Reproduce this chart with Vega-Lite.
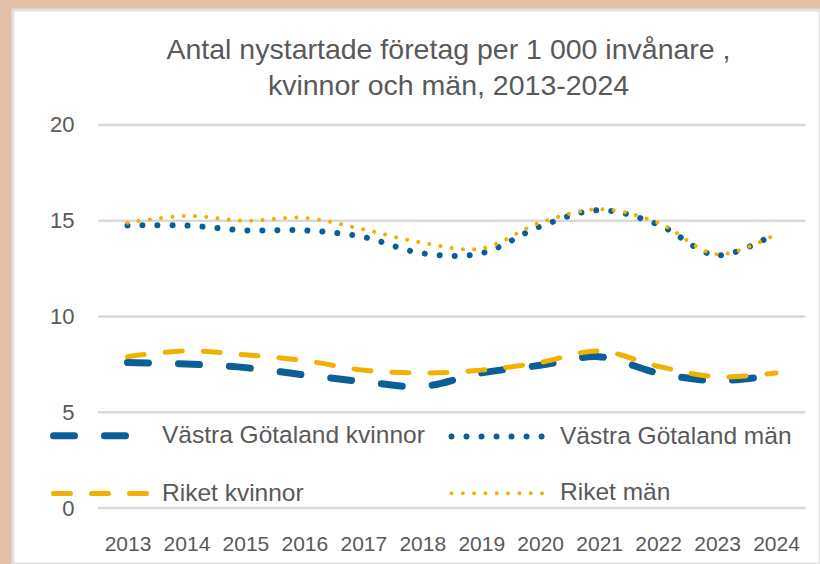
{
  "$schema": "https://vega.github.io/schema/vega-lite/v6.json",
  "width": 807,
  "height": 554,
  "autosize": "none",
  "padding": {"left": 13, "top": 10, "right": 0, "bottom": 0},
  "background": "#e2bfa9",
  "config": {
    "view": {"fill": "white", "stroke": "#e2e2e2", "strokeWidth": 3},
    "font": "Liberation Sans"
  },
  "title": {
    "text": ["Antal nystartade företag per 1 000 invånare ,", "kvinnor och män, 2013-2024"],
    "fontSize": 28.5,
    "font": "Liberation Sans",
    "fontWeight": "normal",
    "color": "#595959",
    "anchor": "middle",
    "frame": "group",
    "baseline": "top",
    "offset": -90,
    "lineHeight": 36,
    "dx": 32
  },
  "datasets": {
    "grid": [{"v": 0}, {"v": 5}, {"v": 10}, {"v": 15}, {"v": 20}],
    "series": [
      {"year": 2013, "serie": "Västra Götaland kvinnor", "value": 7.6},
      {"year": 2014, "serie": "Västra Götaland kvinnor", "value": 7.52},
      {"year": 2015, "serie": "Västra Götaland kvinnor", "value": 7.33},
      {"year": 2016, "serie": "Västra Götaland kvinnor", "value": 6.95},
      {"year": 2017, "serie": "Västra Götaland kvinnor", "value": 6.6},
      {"year": 2018, "serie": "Västra Götaland kvinnor", "value": 6.35},
      {"year": 2019, "serie": "Västra Götaland kvinnor", "value": 7.05},
      {"year": 2020, "serie": "Västra Götaland kvinnor", "value": 7.45},
      {"year": 2021, "serie": "Västra Götaland kvinnor", "value": 7.9},
      {"year": 2022, "serie": "Västra Götaland kvinnor", "value": 7.05},
      {"year": 2023, "serie": "Västra Götaland kvinnor", "value": 6.65},
      {"year": 2024, "serie": "Västra Götaland kvinnor", "value": 6.95},
      {"year": 2013, "serie": "Västra Götaland män", "value": 14.75},
      {"year": 2014, "serie": "Västra Götaland män", "value": 14.75},
      {"year": 2015, "serie": "Västra Götaland män", "value": 14.5},
      {"year": 2016, "serie": "Västra Götaland män", "value": 14.5},
      {"year": 2017, "serie": "Västra Götaland män", "value": 14.15},
      {"year": 2018, "serie": "Västra Götaland män", "value": 13.3},
      {"year": 2019, "serie": "Västra Götaland män", "value": 13.3},
      {"year": 2020, "serie": "Västra Götaland män", "value": 14.7},
      {"year": 2021, "serie": "Västra Götaland män", "value": 15.55},
      {"year": 2022, "serie": "Västra Götaland män", "value": 14.8},
      {"year": 2023, "serie": "Västra Götaland män", "value": 13.2},
      {"year": 2024, "serie": "Västra Götaland män", "value": 14.35},
      {"year": 2013, "serie": "Riket kvinnor", "value": 7.9},
      {"year": 2014, "serie": "Riket kvinnor", "value": 8.2},
      {"year": 2015, "serie": "Riket kvinnor", "value": 8.0},
      {"year": 2016, "serie": "Riket kvinnor", "value": 7.7},
      {"year": 2017, "serie": "Riket kvinnor", "value": 7.2},
      {"year": 2018, "serie": "Riket kvinnor", "value": 7.05},
      {"year": 2019, "serie": "Riket kvinnor", "value": 7.2},
      {"year": 2020, "serie": "Riket kvinnor", "value": 7.6},
      {"year": 2021, "serie": "Riket kvinnor", "value": 8.2},
      {"year": 2022, "serie": "Riket kvinnor", "value": 7.4},
      {"year": 2023, "serie": "Riket kvinnor", "value": 6.85},
      {"year": 2024, "serie": "Riket kvinnor", "value": 7.05},
      {"year": 2013, "serie": "Riket män", "value": 14.9},
      {"year": 2014, "serie": "Riket män", "value": 15.25},
      {"year": 2015, "serie": "Riket män", "value": 15.0},
      {"year": 2016, "serie": "Riket män", "value": 15.15},
      {"year": 2017, "serie": "Riket män", "value": 14.55},
      {"year": 2018, "serie": "Riket män", "value": 13.85},
      {"year": 2019, "serie": "Riket män", "value": 13.55},
      {"year": 2020, "serie": "Riket män", "value": 14.9},
      {"year": 2021, "serie": "Riket män", "value": 15.6},
      {"year": 2022, "serie": "Riket män", "value": 14.9},
      {"year": 2023, "serie": "Riket män", "value": 13.25},
      {"year": 2024, "serie": "Riket män", "value": 14.3}
    ]
  },
  "layer": [
    {
      "data": {"name": "grid"},
      "mark": {"type": "rule", "color": "#d9d9d9", "strokeWidth": 2.5},
      "encoding": {
        "x": {
          "datum": 2012.5, "type": "quantitative",
          "scale": {"domain": [2011.058, 2024.746], "nice": false, "zero": false},
          "axis": {
            "orient": "bottom", "offset": -30.5, "values": [2013, 2014, 2015, 2016, 2017, 2018, 2019, 2020, 2021, 2022, 2023, 2024],
            "format": "d", "title": null, "ticks": false, "domain": false, "grid": false,
            "labelPadding": 0, "labelFontSize": 21, "labelColor": "#595959", "labelOverlap": false, "labelFlush": false
          }
        },
        "x2": {"datum": 2024.5},
        "y": {
          "field": "v", "type": "quantitative",
          "scale": {"domain": [-2.924, 26.005], "nice": false, "zero": false},
          "axis": {
            "orient": "left", "offset": -71, "values": [0, 5, 10, 15, 20],
            "title": null, "ticks": false, "domain": false, "grid": false,
            "labelPadding": 10, "labelFontSize": 22, "labelColor": "#595959"
          }
        }
      }
    },
    {
      "data": {"name": "series"},
      "mark": {"type": "line", "interpolate": "catmull-rom", "strokeCap": "round"},
      "encoding": {
        "x": {
          "field": "year", "type": "quantitative",
          "scale": {"domain": [2011.058, 2024.746], "nice": false, "zero": false},
          "axis": {
            "orient": "bottom", "offset": -30.5, "values": [2013, 2014, 2015, 2016, 2017, 2018, 2019, 2020, 2021, 2022, 2023, 2024],
            "format": "d", "title": null, "ticks": false, "domain": false, "grid": false,
            "labelPadding": 0, "labelFontSize": 21, "labelColor": "#595959", "labelOverlap": false, "labelFlush": false
          }
        },
        "y": {
          "field": "value", "type": "quantitative",
          "scale": {"domain": [-2.924, 26.005], "nice": false, "zero": false},
          "axis": {
            "orient": "left", "offset": -71, "values": [0, 5, 10, 15, 20],
            "title": null, "ticks": false, "domain": false, "grid": false,
            "labelPadding": 10, "labelFontSize": 22, "labelColor": "#595959"
          }
        },
        "color": {
          "field": "serie", "type": "nominal",
          "scale": {
            "domain": ["Västra Götaland kvinnor", "Västra Götaland män", "Riket kvinnor", "Riket män"],
            "range": ["#0b5e96", "#0b5e96", "#f2b100", "#f2b100"]
          },
          "legend": {
            "orient": "none", "legendX": 37, "legendY": 412, "columns": 2, "direction": "horizontal", "title": null,
            "symbolType": "M-1,0H9", "symbolSize": 400,
            "labelFontSize": 24.5, "labelColor": "#595959", "labelOffset": 85, "labelLimit": 0,
            "columnPadding": 14, "rowPadding": 30, "padding": 0,
            "encode": {"symbols": {"update": {"strokeCap": {"value": "round"}}}}
          }
        },
        "strokeDash": {
          "field": "serie", "type": "nominal",
          "scale": {
            "domain": ["Västra Götaland kvinnor", "Västra Götaland män", "Riket kvinnor", "Riket män"],
            "range": [[21, 30], [0.01, 15], [17, 21], [0.01, 11.3]]
          }
        },
        "strokeWidth": {
          "field": "serie", "type": "nominal",
          "scale": {
            "type": "ordinal",
            "domain": ["Västra Götaland kvinnor", "Västra Götaland män", "Riket kvinnor", "Riket män"],
            "range": [7, 6, 5, 4]
          }
        }
      }
    }
  ]
}
